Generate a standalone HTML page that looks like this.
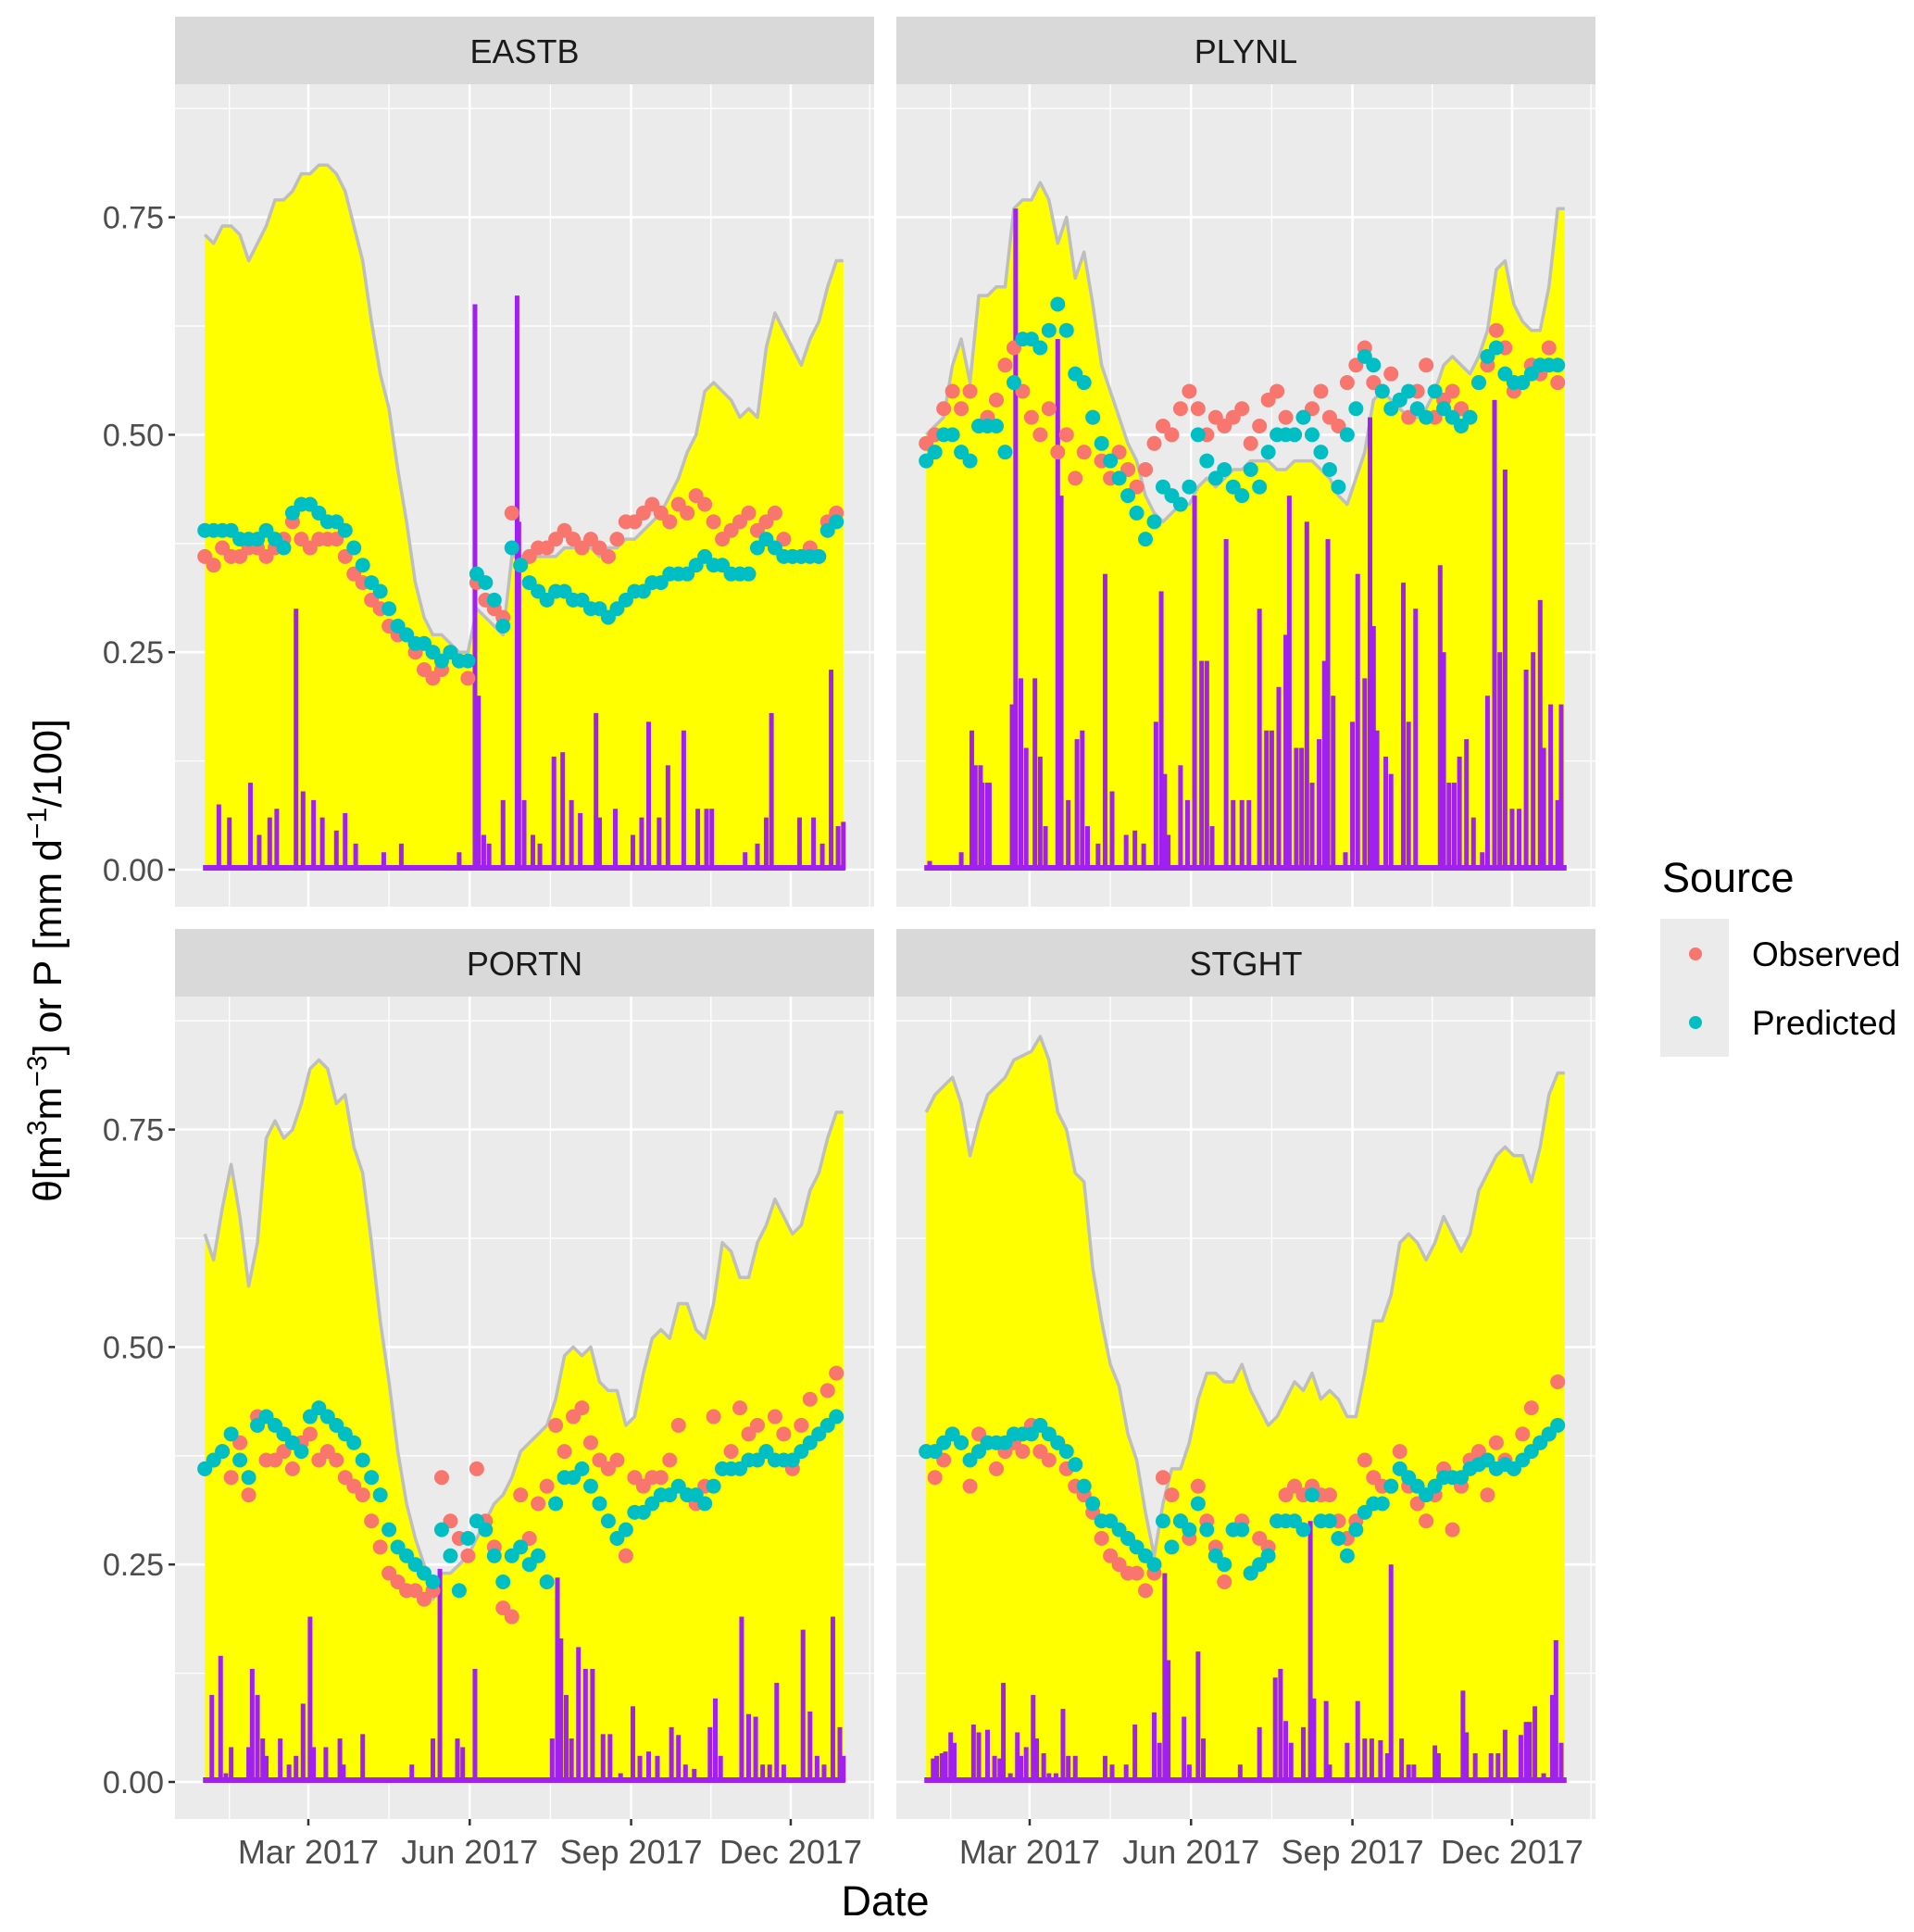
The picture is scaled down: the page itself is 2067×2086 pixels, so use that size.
<!DOCTYPE html>
<html><head><meta charset="utf-8">
<style>
html,body{margin:0;padding:0;background:#fff;}
svg{display:block;font-family:"Liberation Sans",Arial,sans-serif;}
</style></head>
<body>
<svg id="chart" width="2067" height="2086" viewBox="0 0 2067 2086" xmlns="http://www.w3.org/2000/svg">
  <g id="layer"></g>
  <text x="956" y="2068" font-size="45" text-anchor="middle" fill="#000">Date</text>
  <text transform="translate(66,1037) rotate(-90)" font-size="43" text-anchor="middle" fill="#000">θ[m<tspan font-size="30" dy="-16">3</tspan><tspan dy="16">m</tspan><tspan font-size="30" dy="-16">−3</tspan><tspan dy="16">] or P [mm d</tspan><tspan font-size="30" dy="-16">−1</tspan><tspan dy="16">/100]</tspan></text>
  <g>
    <text x="1795" y="963" font-size="45" fill="#000">Source</text>
    <rect x="1793" y="992" width="74" height="149" fill="#EBEBEB"/>
    <circle cx="1831" cy="1030" r="7" fill="#F8766D"/>
    <circle cx="1831" cy="1104" r="7" fill="#00BFC4"/>
    <text x="1892" y="1043" font-size="37" fill="#000">Observed</text>
    <text x="1892" y="1117" font-size="37" fill="#000">Predicted</text>
  </g>
</svg>
<script>
const panelNames = ["EASTB","PLYNL","PORTN","STGHT"];
const yTicks = [0, 0.25, 0.5, 0.75];
const yTickLabels = ["0.00","0.25","0.50","0.75"];
const yMinor = [0.125, 0.375, 0.625, 0.875];
const xTickDays = [59, 151, 243, 334];
const xTickLabels = ["Mar 2017","Jun 2017","Sep 2017","Dec 2017"];
const xMinorDays = [14, 105, 197, 288.5, 379];

const eastbEnv = [.73,.72,.74,.74,.73,.70,.72,.74,.77,.77,.78,.80,.80,.81,.81,.80,.78,.74,.70,.63,.57,.53,.46,.40,.33,.29,.27,.27,.26,.25,.25,.30,.29,.28,.27,.36,.36,.36,.36,.36,.36,.37,.37,.37,.37,.36,.37,.37,.38,.38,.39,.40,.41,.43,.45,.48,.50,.55,.56,.55,.54,.52,.53,.52,.60,.64,.62,.60,.58,.61,.63,.67,.70];
const eastbObs = [.36,.35,.37,.36,.36,.37,.37,.36,.37,.38,.40,.38,.37,.38,.38,.38,.36,.34,.33,.31,.30,.28,.27,.27,.25,.23,.22,.23,.25,.24,.22,.33,.31,.30,.29,.41,.35,.36,.37,.37,.38,.39,.38,.37,.38,.37,.36,.38,.40,.40,.41,.42,.41,.40,.42,.41,.43,.42,.40,.38,.39,.40,.41,.39,.40,.41,.38,.36,.36,.37,.36,.40,.41];
const eastbPred = [.39,.39,.39,.39,.38,.38,.38,.39,.38,.37,.41,.42,.42,.41,.40,.40,.39,.37,.35,.33,.32,.30,.28,.27,.26,.26,.25,.24,.25,.24,.24,.34,.33,.31,.28,.37,.35,.33,.32,.31,.32,.32,.31,.31,.30,.30,.29,.30,.31,.32,.32,.33,.33,.34,.34,.34,.35,.36,.35,.35,.34,.34,.34,.37,.38,.37,.36,.36,.36,.36,.36,.39,.40];
const eastbRainDay = [8,14,26,31,37,41,52,56,62,67,75,80,86,102,112,145,154,156,159,162,170,178,179,182,187,191,199,204,209,214,223,225,234,244,249,253,259,264,273,281,286,289,308,315,320,323,339,347,352,357,361,364];
const eastbRain = [.075,.06,.10,.04,.06,.07,.30,.09,.08,.06,.045,.065,.03,.02,.03,.02,.65,.20,.04,.03,.08,.66,.40,.08,.04,.03,.13,.135,.08,.065,.18,.06,.07,.04,.06,.17,.06,.12,.16,.07,.07,.07,.02,.03,.06,.18,.06,.06,.03,.23,.05,.055];

const plynlEnv = [.50,.51,.52,.58,.61,.56,.66,.66,.67,.67,.76,.77,.77,.79,.77,.72,.75,.68,.71,.65,.58,.55,.52,.49,.47,.43,.41,.40,.41,.42,.42,.44,.45,.44,.45,.46,.46,.47,.47,.47,.46,.46,.47,.47,.47,.46,.45,.43,.42,.45,.48,.54,.55,.54,.53,.52,.52,.53,.55,.58,.59,.58,.57,.59,.62,.69,.70,.65,.63,.62,.62,.67,.76];
const plynlObs = [.49,.50,.53,.55,.53,.55,.51,.52,.54,.58,.60,.55,.52,.50,.53,.48,.50,.45,.48,.52,.47,.45,.48,.46,.44,.46,.49,.51,.50,.53,.55,.53,.50,.52,.51,.52,.53,.49,.51,.54,.55,.52,.50,.52,.53,.55,.52,.51,.56,.58,.60,.56,.55,.57,.54,.52,.55,.58,.52,.54,.55,.53,.52,.56,.58,.62,.60,.55,.56,.58,.57,.60,.56];
const plynlPred = [.47,.48,.50,.50,.48,.47,.51,.51,.51,.48,.56,.61,.61,.60,.62,.65,.62,.57,.56,.52,.49,.47,.45,.43,.41,.38,.40,.44,.43,.42,.44,.50,.47,.45,.46,.44,.43,.46,.44,.48,.50,.50,.50,.52,.50,.48,.46,.44,.50,.53,.59,.58,.55,.53,.54,.55,.53,.52,.55,.53,.52,.51,.52,.56,.59,.60,.57,.56,.56,.57,.58,.58,.58];
const plynlRainDay = [2,15,20,26,28,31,32,35,36,49,51,54,57,62,65,68,75,77,81,86,89,92,98,102,106,114,119,124,131,134,136,138,145,149,153,157,160,163,171,175,180,184,190,194,197,201,205,207,211,214,217,220,224,227,229,232,239,243,246,250,253,255,257,262,265,272,275,279,293,295,298,301,304,308,312,317,320,324,327,330,334,338,342,346,350,352,356,360,362];
const plynlRain = [.01,.005,.02,.16,.12,.12,.10,.10,.10,.19,.76,.22,.14,.22,.13,.05,.61,.43,.08,.15,.16,.05,.03,.34,.09,.04,.045,.03,.17,.32,.11,.04,.12,.08,.43,.24,.24,.05,.38,.08,.08,.08,.30,.16,.16,.21,.27,.43,.14,.14,.40,.10,.15,.24,.38,.20,.02,.17,.34,.22,.52,.28,.16,.13,.11,.33,.17,.30,.35,.25,.10,.10,.13,.15,.06,.02,.20,.54,.25,.46,.07,.07,.23,.25,.31,.14,.19,.08,.19];

const portnEnv = [.63,.60,.66,.71,.65,.57,.62,.74,.76,.74,.75,.78,.82,.83,.82,.78,.79,.73,.70,.62,.53,.46,.38,.32,.28,.25,.21,.24,.24,.25,.26,.28,.30,.32,.33,.35,.38,.39,.40,.41,.44,.49,.50,.49,.50,.46,.45,.45,.41,.42,.47,.51,.52,.51,.55,.55,.52,.51,.55,.62,.61,.58,.58,.62,.64,.67,.65,.63,.64,.68,.70,.74,.77];
const portnObs = [.36,.37,.38,.35,.39,.33,.42,.37,.37,.38,.36,.39,.40,.37,.38,.37,.35,.34,.33,.30,.27,.24,.23,.22,.22,.21,.22,.35,.30,.28,.26,.36,.30,.27,.20,.19,.33,.28,.32,.34,.41,.38,.42,.43,.39,.37,.36,.37,.26,.35,.34,.35,.35,.37,.41,.33,.32,.34,.42,.36,.38,.43,.40,.41,.38,.42,.40,.36,.41,.44,.40,.45,.47];
const portnPred = [.36,.37,.38,.40,.37,.35,.41,.42,.41,.40,.39,.38,.42,.43,.42,.41,.40,.39,.37,.35,.33,.29,.27,.26,.25,.24,.23,.29,.26,.22,.28,.30,.29,.26,.23,.26,.27,.25,.26,.23,.32,.35,.35,.36,.34,.32,.30,.28,.29,.31,.31,.32,.33,.33,.34,.33,.33,.32,.34,.36,.36,.36,.37,.37,.38,.37,.37,.37,.38,.39,.40,.41,.42];
const portnRainDay = [4,9,12,15,25,27,30,33,35,43,48,52,56,60,62,69,77,79,90,108,118,123,130,134,144,147,154,198,201,203,206,209,213,217,221,227,231,237,244,248,253,258,266,270,274,279,288,291,294,306,310,314,318,322,326,330,341,345,349,353,358,362,364];
const portnRain = [.10,.145,.01,.04,.04,.13,.10,.05,.03,.05,.02,.03,.09,.19,.04,.04,.05,.02,.055,.005,.02,.005,.05,.245,.05,.04,.13,.05,.235,.165,.10,.05,.155,.13,.13,.055,.055,.01,.087,.03,.035,.03,.063,.054,.02,.015,.063,.096,.03,.19,.078,.075,.02,.02,.114,.02,.175,.081,.03,.02,.19,.063,.03];

const stghtEnv = [.77,.79,.80,.81,.78,.72,.76,.79,.80,.81,.83,.835,.84,.857,.83,.77,.75,.70,.69,.59,.53,.48,.455,.40,.37,.31,.26,.32,.36,.36,.39,.44,.47,.47,.46,.46,.48,.45,.43,.41,.42,.44,.46,.45,.47,.44,.45,.44,.42,.42,.47,.53,.53,.56,.62,.63,.62,.60,.62,.65,.63,.61,.63,.68,.70,.72,.73,.72,.72,.69,.73,.79,.815];
const stghtObs = [.38,.35,.37,.40,.39,.34,.40,.39,.36,.38,.39,.38,.41,.38,.37,.39,.36,.34,.33,.31,.28,.26,.25,.24,.24,.22,.24,.35,.33,.30,.28,.34,.30,.27,.23,.29,.30,.24,.28,.27,.30,.33,.34,.33,.34,.33,.33,.30,.28,.30,.37,.35,.34,.34,.38,.34,.32,.30,.33,.36,.29,.34,.37,.38,.33,.39,.37,.36,.40,.43,.39,.40,.46];
const stghtPred = [.38,.38,.39,.40,.39,.37,.38,.39,.39,.39,.40,.40,.40,.41,.40,.39,.38,.365,.34,.32,.30,.30,.29,.28,.27,.26,.25,.30,.27,.30,.29,.32,.29,.26,.25,.29,.29,.24,.25,.26,.30,.30,.30,.29,.33,.30,.30,.28,.26,.29,.31,.32,.32,.34,.36,.35,.34,.33,.34,.35,.35,.35,.36,.365,.37,.36,.365,.36,.37,.38,.39,.40,.41];
const stghtRainDay = [4,6,9,11,14,16,27,30,35,39,42,44,48,52,54,57,61,63,67,70,74,78,81,85,89,102,106,114,119,130,133,136,138,147,150,155,158,179,190,199,202,205,208,215,219,221,228,230,240,246,250,254,259,263,265,271,275,278,290,292,306,308,313,322,326,330,339,342,344,347,352,357,359,362];
const stghtRain = [.027,.03,.033,.035,.057,.045,.066,.057,.06,.03,.027,.114,.01,.057,.03,.04,.10,.05,.033,.01,.01,.084,.03,.03,.005,.03,.02,.02,.066,.08,.045,.24,.14,.075,.02,.15,.05,.02,.063,.12,.13,.07,.045,.063,.30,.096,.093,.02,.045,.093,.05,.05,.048,.033,.25,.05,.02,.02,.042,.033,.105,.057,.033,.033,.033,.06,.054,.069,.069,.087,.01,.10,.163,.045];

const envs = [eastbEnv, plynlEnv, portnEnv, stghtEnv];
const obsSets = [eastbObs, plynlObs, portnObs, stghtObs];
const predSets = [eastbPred, plynlPred, portnPred, stghtPred];
const rainDays = [eastbRainDay, plynlRainDay, portnRainDay, stghtRainDay];
const rainVals = [eastbRain, plynlRain, portnRain, stghtRain];
const sampleDays = [];
for (let d = 0; d <= 360; d += 5) sampleDays.push(d);

// ---- layout ----
const NS = "http://www.w3.org/2000/svg";
const layer = document.getElementById("layer");
const panelW = 755, stripH = 73, plotH = 888;
const panelX = [189, 968, 189, 968];
const panelY = [18, 18, 1003, 1003];
function mk(tag, attrs, parent) {
  const e = document.createElementNS(NS, tag);
  for (const k in attrs) e.setAttribute(k, attrs[k]);
  (parent || layer).appendChild(e);
  return e;
}
const pxPerDay = 1.8945, dayOffset = 32.2;
const pxPerUnit = 939.2;
const dotR = 8;

panelNames.forEach((name, p) => {
  const px0 = panelX[p], strip0 = panelY[p], top = strip0 + stripH, zeroY = top + 848;
  const xS = d => px0 + dayOffset + d * pxPerDay;
  const yS = v => zeroY - v * pxPerUnit;
  const g = mk("g", {});
  
  

  const strip = mk("rect", {x: px0, y: strip0, width: panelW, height: stripH, fill: "#D9D9D9"}, g);
  
  
  const st = mk("text", {x: px0 + panelW / 2, y: strip0 + 50, "font-size": 36, "text-anchor": "middle", fill: "#1A1A1A"}, g);
  st.textContent = name;
  
  

  const bg = mk("rect", {x: px0, y: top, width: panelW, height: plotH, fill: "#EBEBEB"}, g);
  
  

  const clipId = "clip" + p;
  const cp = mk("clipPath", {id: clipId}, g);
  mk("rect", {x: px0, y: top, width: panelW, height: plotH}, cp);
  const inner = mk("g", {"clip-path": "url(#" + clipId + ")"}, g);

  yMinor.forEach(v => {
    const l = mk("line", {x1: px0, x2: px0 + panelW, y1: yS(v), y2: yS(v), stroke: "#fff", "stroke-width": 1.3}, inner);
    
    
  });
  xMinorDays.forEach(d => {
    const l = mk("line", {x1: xS(d), x2: xS(d), y1: top, y2: top + plotH, stroke: "#fff", "stroke-width": 1.3}, inner);
    
    
  });
  yTicks.forEach(v => {
    const l = mk("line", {x1: px0, x2: px0 + panelW, y1: yS(v), y2: yS(v), stroke: "#fff", "stroke-width": 2.6}, inner);
    
    
  });
  xTickDays.forEach(d => {
    const l = mk("line", {x1: xS(d), x2: xS(d), y1: top, y2: top + plotH, stroke: "#fff", "stroke-width": 2.6}, inner);
    
    
  });

  const env = envs[p];
  let pts = xS(sampleDays[0]) + "," + yS(0) + " ";
  let lpts = "";
  env.forEach((v, i) => { pts += xS(sampleDays[i]) + "," + yS(v) + " "; lpts += xS(sampleDays[i]) + "," + yS(v) + " "; });
  const lastD = 364;
  pts += xS(lastD) + "," + yS(env[env.length - 1]) + " " + xS(lastD) + "," + yS(0);
  lpts += xS(lastD) + "," + yS(env[env.length - 1]);
  const area = mk("polygon", {points: pts, fill: "#FFFF00"}, inner);
  
  
  const line = mk("polyline", {points: lpts, fill: "none", stroke: "#BEBEBE", "stroke-width": 3.5, "stroke-linejoin": "round"}, inner);
  
  

  const base = mk("rect", {x: xS(0) - 2, y: yS(0) - 5, width: xS(364) - xS(0) + 4, height: 6, fill: "#A020F0"}, inner);
  
  
  rainDays[p].forEach((d, i) => {
    const v = rainVals[p][i];
    const b = mk("rect", {x: xS(d) - 2.5, y: yS(v), width: 5, height: v * pxPerUnit, fill: "#A020F0"}, inner);
    
    
  });

  obsSets[p].forEach((v, i) => {
    const c = mk("circle", {cx: xS(sampleDays[i]), cy: yS(v), r: dotR, fill: "#F8766D"}, inner);
    
    
  });
  predSets[p].forEach((v, i) => {
    const c = mk("circle", {cx: xS(sampleDays[i]), cy: yS(v), r: dotR, fill: "#00BFC4"}, inner);
    
    
  });

  if (p === 0 || p === 2) {
    yTicks.forEach((v, i) => {
      const t = mk("line", {x1: px0 - 7, x2: px0, y1: yS(v), y2: yS(v), stroke: "#333", "stroke-width": 2.5}, g);
      
      
      const tx = mk("text", {x: px0 - 12, y: yS(v) + 12, "font-size": 34, "text-anchor": "end", fill: "#4D4D4D"}, g);
      tx.textContent = yTickLabels[i];
      
      
    });
  }
  if (p >= 2) {
    xTickDays.forEach((d, i) => {
      const t = mk("line", {x1: xS(d), x2: xS(d), y1: top + plotH, y2: top + plotH + 7, stroke: "#333", "stroke-width": 2.5}, g);
      
      
      const tx = mk("text", {x: xS(d), y: top + plotH + 48, "font-size": 36, "text-anchor": "middle", fill: "#4D4D4D"}, g);
      tx.textContent = xTickLabels[i];
      
      
    });
  }
});
</script>
</body></html>
